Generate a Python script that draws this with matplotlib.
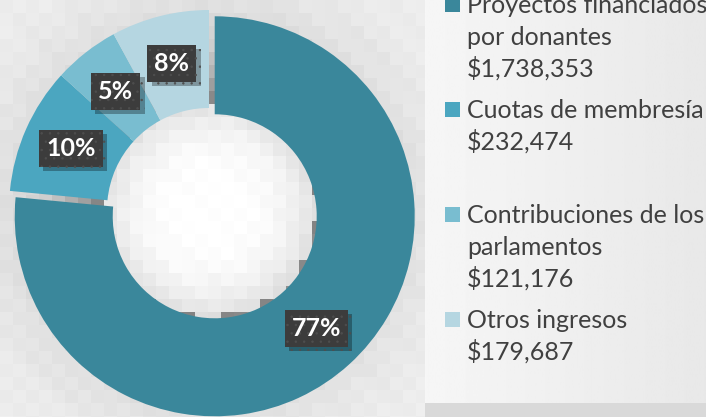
import numpy as np
import matplotlib
matplotlib.use("Agg")
import matplotlib.pyplot as plt
import matplotlib.patheffects as pe
from matplotlib.patches import Rectangle

# datos
categorias = ["Proyectos financiados\npor donantes", "Cuotas de membresía",
              "Contribuciones de los\nparlamentos", "Otros ingresos"]
montos = [1738353, 232474, 121176, 179687]
colores = ["#3A879B", "#4BA6C0", "#79BDD0", "#B5D6E1"]
explode = [8.5, 0, 0, 0]  # en pixeles (pie no lo escala con el radio)

plt.rcParams['font.family'] = ['Lato', 'DejaVu Sans']
plt.rcParams['hatch.color'] = '#4E4E4E'
plt.rcParams['hatch.linewidth'] = 0.5

W, H = 706, 417
fig = plt.figure(figsize=(W / 100, H / 100), dpi=100)
ax = fig.add_axes([0, 0, 1, 1])

# fondo en mosaico (gris claro, mas oscuro cerca del anillo)
cx, cy = 209, 210
blk = 13
ny, nx = H // blk + 1, W // blk + 1
fondo = np.zeros((ny, nx))
for i in range(ny):
    for j in range(nx):
        r = np.hypot(j * blk + blk / 2 - cx, i * blk + blk / 2 - cy)
        if r < 110:
            v = 255 - 30 * (r / 105) ** 3
        else:
            v = 240 - 18 * np.exp(-(r - 200) / 50)
        v += ((i * 7 + j * 3) % 5 - 2) * 1.2
        fondo[i, j] = min(v, 255) / 255
ax.imshow(fondo, cmap="gray", vmin=0, vmax=1, extent=(0, nx * blk, H - ny * blk, H),
          interpolation="nearest", zorder=0)

# panel de la leyenda con degradado suave
grad = np.linspace(0.965, 0.91, 200).reshape(1, -1)
ax.imshow(grad, cmap="gray", vmin=0, vmax=1, extent=(425, W, H - 403, H),
          aspect="auto", zorder=0.5)
ax.add_patch(Rectangle((425, 0), W - 425, H - 403, fc="#D9D9D9", lw=0, zorder=0.5))

wedges, _, pcts = ax.pie(montos, colors=colores, startangle=90, counterclock=False,
                         explode=explode, center=(cx, H - cy), radius=200,
                         autopct='%1.0f%%', pctdistance=0.755,
                         wedgeprops=dict(width=98, linewidth=0))
for w in wedges:
    w.set_zorder(1)

for t in pcts:
    t.set_color("white")
    t.set_fontsize(18)
    t.set_fontweight("bold")
    t.set_zorder(3)
    t.set_bbox(dict(boxstyle="square,pad=0.28", fc="#3C3C3C", ec="#4E4E4E",
                    lw=0, hatch=".."))
    t.get_bbox_patch().set_path_effects(
        [pe.SimplePatchShadow(offset=(3, -3), shadow_rgbFace="black", alpha=0.3),
         pe.Normal()])

# leyenda
lh = 32
for k, (cat, m, c) in enumerate(zip(categorias, montos, colores)):
    base = 13 + k * 105
    ax.add_patch(Rectangle((445, H - base + 1), 15, 15, fc=c, lw=0, zorder=2))
    lineas = cat.split("\n") + ["${:,}".format(m)]
    for n, s in enumerate(lineas):
        ax.text(467, H - base - n * lh, s, fontsize=18, color="#404040",
                va="baseline", ha="left", zorder=2)

ax.set_xlim(0, W)
ax.set_ylim(0, H)
ax.set_aspect("equal")
ax.axis("off")

fig.savefig("out.png", dpi=100)
